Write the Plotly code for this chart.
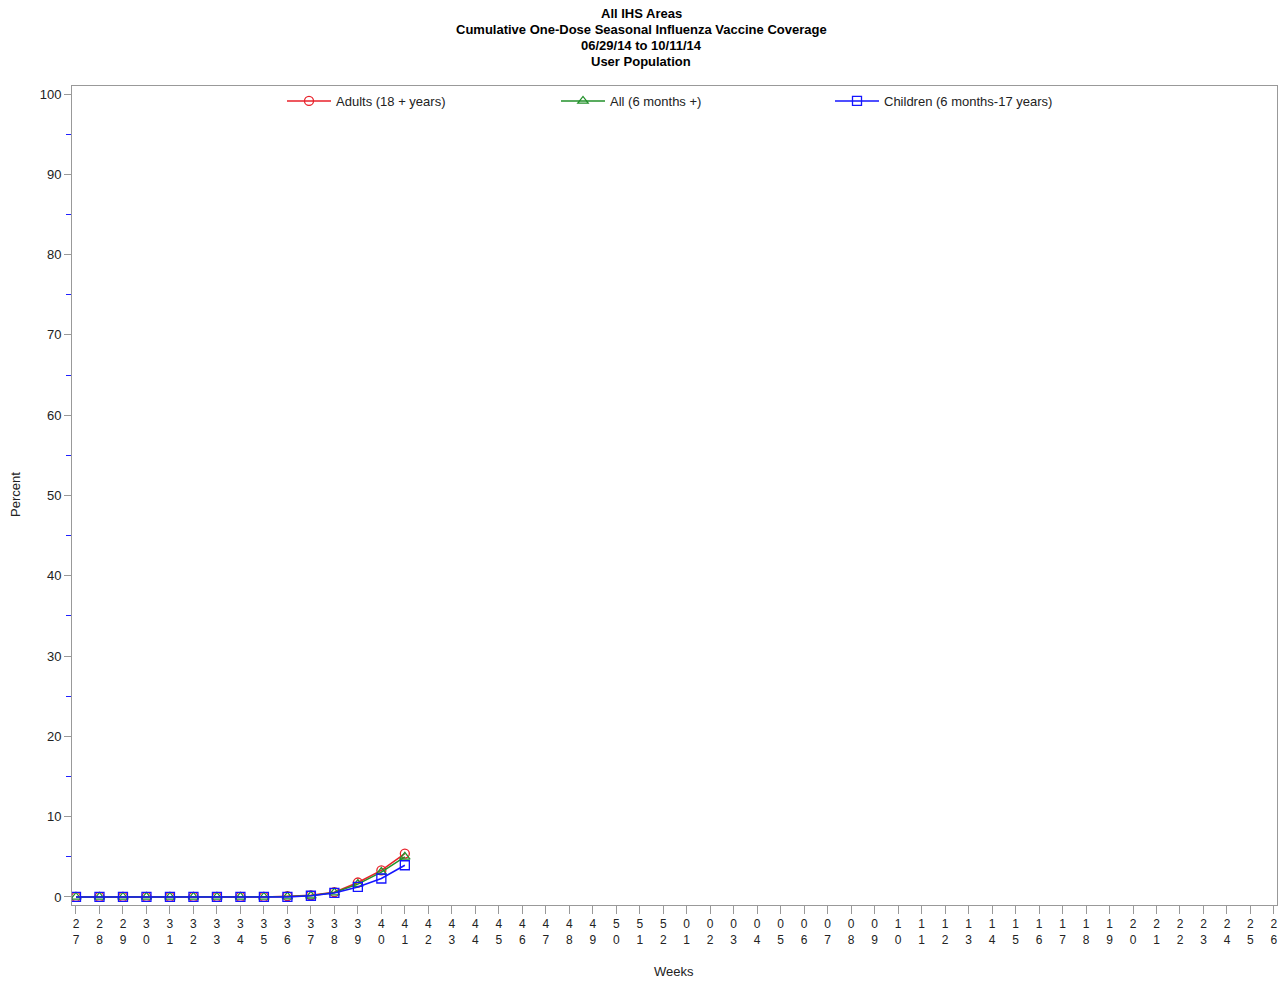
import plotly.graph_objects as go

weeks = [str(w) for w in range(27, 53)] + [f"{w:02d}" for w in range(1, 27)]
tick_labels = [f"{w[0]}<br>{w[1]}" for w in weeks]

obs_weeks = weeks[:15]
adults = [0, 0, 0, 0, 0, 0, 0, 0, 0, 0.1, 0.2, 0.6, 1.8, 3.3, 5.4]
all_pop = [0, 0, 0, 0, 0, 0, 0, 0, 0, 0.05, 0.15, 0.55, 1.6, 3.1, 5.0]
children = [0, 0, 0, 0, 0, 0, 0, 0, 0, 0, 0.15, 0.5, 1.25, 2.3, 3.95]

title_lines = ["All IHS Areas", "Cumulative One-Dose Seasonal Influenza Vaccine Coverage",
               "06/29/14 to 10/11/14", "User Population"]

idx = list(range(len(weeks)))
xpos = [weeks.index(w) for w in obs_weeks]

W, H = 1282, 983
ML, MR, MT, MB = 72, 5, 86, 78
PW, PH = W - ML - MR, H - MT - MB


def px_x(x):
    return (x - ML) / PW


def px_y(y):
    return 1 - (y - MT) / PH


fig = go.Figure()
series = [
    ("Adults (18 + years)", adults, "#e8212a", "circle-open"),
    ("All (6 months +)", all_pop, "#22912a", "triangle-up-open"),
    ("Children (6 months-17 years)", children, "#1414ff", "square-open"),
]
for name, vals, col, sym in series:
    fig.add_trace(go.Scatter(
        x=xpos, y=vals, name=name, mode="lines+markers",
        line=dict(color=col, width=1.5),
        marker=dict(symbol=sym, size=9, color=col, line=dict(width=1.3, color=col)),
    ))

annotations = []
for i, t in enumerate(title_lines):
    annotations.append(dict(
        text=f"<b>{t}</b>", xref="paper", yref="paper",
        x=px_x(641), y=px_y(13 + i * 16.1),
        xanchor="center", yanchor="middle", showarrow=False,
        font=dict(family="Liberation Sans, Arial, sans-serif", size=13, color="black"),
    ))
annotations.append(dict(
    text="Percent", xref="paper", yref="paper", textangle=-90,
    x=px_x(15), y=px_y(495),
    xanchor="center", yanchor="middle", showarrow=False,
    font=dict(size=13, color="#222"),
))
annotations.append(dict(
    text="Weeks", xref="paper", yref="paper",
    x=px_x(674), y=px_y(971),
    xanchor="center", yanchor="middle", showarrow=False,
    font=dict(size=13, color="#222"),
))

fig.update_layout(
    width=W, height=H,
    paper_bgcolor="white", plot_bgcolor="white",
    margin=dict(l=ML, r=MR, t=MT, b=MB, autoexpand=False),
    font=dict(family="Liberation Sans, Arial, sans-serif", size=12, color="#222"),
    legend=dict(
        orientation="h", x=px_x(282), y=1.0, xanchor="left", yanchor="top",
        entrywidth=215, entrywidthmode="pixels", itemwidth=44,
        font=dict(size=13, color="#222"), bgcolor="rgba(0,0,0,0)",
    ),
    showlegend=True,
    annotations=annotations,
)
fig.update_xaxes(
    range=[-0.17, 51.13], tickmode="array", tickvals=idx, ticktext=tick_labels,
    ticks="outside", ticklen=8, tickcolor="#999", showgrid=False, zeroline=False,
    showline=True, linecolor="#999", linewidth=1, mirror=True, automargin=False,
    tickfont=dict(size=12, color="#222"),
)
fig.update_yaxes(
    range=[-1, 101], tickmode="array", tickvals=list(range(0, 101, 10)),
    ticks="outside", ticklen=7, tickcolor="#999", showgrid=False, zeroline=False,
    showline=True, linecolor="#999", linewidth=1, mirror=True, automargin=False,
    tickfont=dict(size=13, color="#222"),
    minor=dict(tickvals=list(range(5, 100, 10)), ticks="outside", ticklen=5, tickcolor="#2020ff", showgrid=False),
)

fig.write_html(
    "out.html",
    config={"displayModeBar": False},
    default_width=f"{W}px", default_height=f"{H}px",
    post_script="document.body.style.margin='0';document.body.style.overflow='hidden';",
)
